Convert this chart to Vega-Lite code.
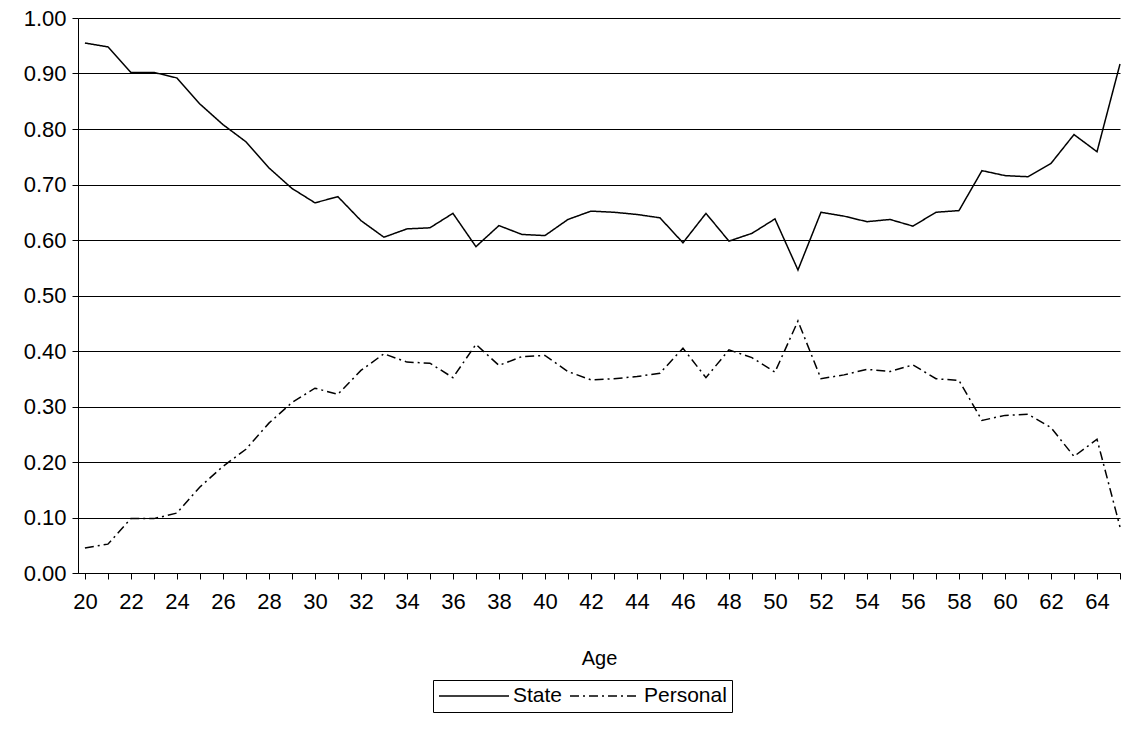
{
  "$schema": "https://vega.github.io/schema/vega-lite/v6.json",
  "width": 1042,
  "height": 555,
  "autosize": "none",
  "padding": {"left": 78, "top": 18, "right": 1, "bottom": 167},
  "background": "white",
  "config": {
    "font": "Liberation Sans",
    "view": {"stroke": null},
    "axis": {"labelFont": "Liberation Sans", "titleFont": "Liberation Sans", "labelColor": "black", "titleColor": "black", "domainColor": "black", "tickColor": "black"}
  },
  "data": {
    "values": [
      {"age":20,"State":0.955,"Personal":0.045},{"age":21,"State":0.948,"Personal":0.052},
      {"age":22,"State":0.902,"Personal":0.098},{"age":23,"State":0.902,"Personal":0.098},
      {"age":24,"State":0.892,"Personal":0.108},{"age":25,"State":0.845,"Personal":0.155},
      {"age":26,"State":0.808,"Personal":0.192},{"age":27,"State":0.777,"Personal":0.223},
      {"age":28,"State":0.730,"Personal":0.270},{"age":29,"State":0.693,"Personal":0.307},
      {"age":30,"State":0.667,"Personal":0.333},{"age":31,"State":0.678,"Personal":0.322},
      {"age":32,"State":0.635,"Personal":0.365},{"age":33,"State":0.605,"Personal":0.395},
      {"age":34,"State":0.620,"Personal":0.380},{"age":35,"State":0.622,"Personal":0.378},
      {"age":36,"State":0.648,"Personal":0.352},{"age":37,"State":0.588,"Personal":0.412},
      {"age":38,"State":0.626,"Personal":0.374},{"age":39,"State":0.610,"Personal":0.390},
      {"age":40,"State":0.608,"Personal":0.392},{"age":41,"State":0.637,"Personal":0.363},
      {"age":42,"State":0.652,"Personal":0.348},{"age":43,"State":0.650,"Personal":0.350},
      {"age":44,"State":0.646,"Personal":0.354},{"age":45,"State":0.640,"Personal":0.360},
      {"age":46,"State":0.595,"Personal":0.405},{"age":47,"State":0.648,"Personal":0.352},
      {"age":48,"State":0.598,"Personal":0.402},{"age":49,"State":0.612,"Personal":0.388},
      {"age":50,"State":0.638,"Personal":0.362},{"age":51,"State":0.546,"Personal":0.454},
      {"age":52,"State":0.650,"Personal":0.350},{"age":53,"State":0.643,"Personal":0.357},
      {"age":54,"State":0.633,"Personal":0.367},{"age":55,"State":0.637,"Personal":0.363},
      {"age":56,"State":0.625,"Personal":0.375},{"age":57,"State":0.650,"Personal":0.350},
      {"age":58,"State":0.653,"Personal":0.347},{"age":59,"State":0.725,"Personal":0.275},
      {"age":60,"State":0.716,"Personal":0.284},{"age":61,"State":0.714,"Personal":0.286},
      {"age":62,"State":0.738,"Personal":0.262},{"age":63,"State":0.790,"Personal":0.210},
      {"age":64,"State":0.759,"Personal":0.241},{"age":65,"State":0.917,"Personal":0.083}
    ]
  },
  "transform": [{"fold": ["State", "Personal"], "as": ["series", "value"]}],
  "mark": {"type": "line", "strokeWidth": 1.5},
  "encoding": {
    "x": {
      "field": "age", "type": "quantitative", "title": "Age",
      "scale": {"domain": [19.7, 65], "nice": false, "zero": false},
      "axis": {"values": [20,21,22,23,24,25,26,27,28,29,30,31,32,33,34,35,36,37,38,39,40,41,42,43,44,45,46,47,48,49,50,51,52,53,54,55,56,57,58,59,60,61,62,63,64,65],
        "labelExpr": "datum.value % 2 == 0 && datum.value < 65 ? datum.label : ''",
        "grid": false, "labelFontSize": 22, "titleFontSize": 20, "titleFontWeight": "normal", "labelPadding": 12, "titlePadding": 36, "tickSize": 6}
    },
    "y": {
      "field": "value", "type": "quantitative", "title": null,
      "scale": {"domain": [0, 1], "nice": false},
      "axis": {"values": [0,0.1,0.2,0.3,0.4,0.5,0.6,0.7,0.8,0.9,1.0], "format": ".2f", "gridColor": "black", "gridWidth": 1, "labelFontSize": 22, "tickSize": 6, "labelPadding": 6}
    },
    "color": {"field": "series", "type": "nominal", "scale": {"range": ["black", "black"]}, "legend": null},
    "strokeDash": {
      "field": "series", "type": "nominal",
      "scale": {"domain": ["State", "Personal"], "range": [[1, 0], [9, 4, 2, 4]]},
      "legend": {"title": null, "orient": "none", "legendX": 355, "legendY": 662, "direction": "horizontal", "strokeColor": "black", "padding": 5,
        "labelFontSize": 21, "labelColor": "black", "symbolType": "stroke", "symbolSize": 4900, "clipHeight": 22, "symbolStrokeWidth": 1.5, "symbolStrokeColor": "black", "columnPadding": 6, "labelOffset": 3}
    }
  }
}
